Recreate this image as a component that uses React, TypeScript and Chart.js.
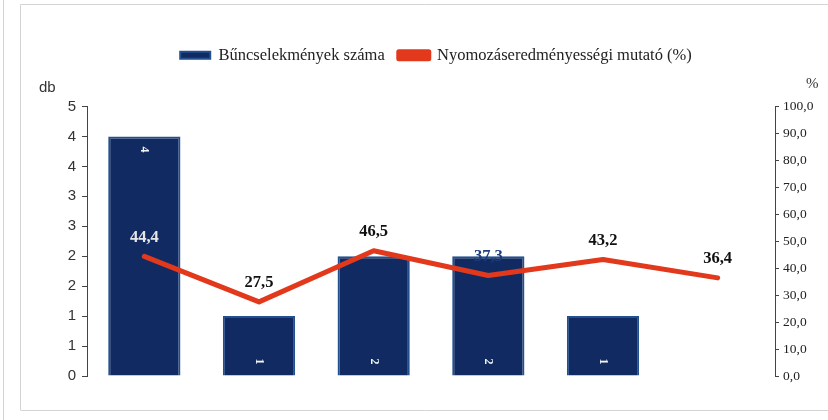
import React, { useEffect, useRef } from "react";
import { Chart, registerables } from "chart.js";

Chart.register(...registerables);

const categories = ["1", "2", "3", "4", "5", "6"];
const crimeCounts: (number | null)[] = [4, 1, 2, 2, 1, null];
const clearanceRates = [44.4, 27.5, 46.5, 37.3, 43.2, 36.4];
const barSeriesName = "Bűncselekmények száma";
const lineSeriesName = "Nyomozáseredményességi mutató (%)";
const leftAxisTitle = "db";
const rightAxisTitle = "%";
const lineLabelColors = ["#e6e6e6", "#111", "#111", "#1c3c80", "#111", "#111"];

const fmtComma = (v: number, d: number) => v.toFixed(d).replace(".", ",");

const decorPlugin = {
  id: "decor",
  beforeInit(chart: any) {
    const orig = chart.legend.fit;
    chart.legend.fit = function () {
      orig.bind(chart.legend)();
      this.height += 33;
    };
  },
  beforeDraw(chart: any) {
    const ctx = chart.ctx;
    ctx.save();
    ctx.fillStyle = "#fff";
    ctx.fillRect(0, 0, chart.width, chart.height);
    ctx.strokeStyle = "#d4d4d4";
    ctx.lineWidth = 1;
    ctx.beginPath();
    ctx.moveTo(20.5, 410);
    ctx.lineTo(20.5, 4.5);
    ctx.lineTo(chart.width, 4.5);
    ctx.moveTo(20.5, 410.5);
    ctx.lineTo(chart.width, 410.5);
    ctx.moveTo(3.5, 0);
    ctx.lineTo(3.5, chart.height);
    ctx.stroke();
    ctx.restore();
  },
  afterDatasetsDraw(chart: any) {
    const ctx = chart.ctx;
    const area = chart.chartArea;
    ctx.save();
    const barMeta = chart.getDatasetMeta(0);
    barMeta.data.forEach((bar: any, i: number) => {
      const v = crimeCounts[i];
      if (v == null) return;
      const y = i === 0 ? bar.y + 13 : bar.base - 14;
      ctx.save();
      ctx.translate(bar.x, y);
      ctx.rotate(Math.PI / 2);
      ctx.fillStyle = "#f4f4f4";
      ctx.font = "bold 12px 'Liberation Serif'";
      ctx.textAlign = "center";
      ctx.textBaseline = "middle";
      ctx.fillText(String(v), 0, 0);
      ctx.restore();
    });
    const lineMeta = chart.getDatasetMeta(1);
    lineMeta.data.forEach((pt: any, i: number) => {
      ctx.fillStyle = lineLabelColors[i];
      ctx.font = "bold 16.5px 'Liberation Serif'";
      ctx.textAlign = "center";
      ctx.textBaseline = "middle";
      ctx.fillText(fmtComma(clearanceRates[i], 1), pt.x, pt.y - 19);
    });
    ctx.fillStyle = "#333";
    ctx.font = "15px 'Liberation Sans'";
    ctx.textAlign = "left";
    ctx.textBaseline = "middle";
    ctx.fillText(leftAxisTitle, area.left - 48, area.top - 19);
    ctx.font = "15px 'Liberation Serif'";
    ctx.fillText(rightAxisTitle, area.right + 31, area.top - 22);
    ctx.restore();
  },
};

export default function App() {
  const ref = useRef<HTMLCanvasElement | null>(null);
  useEffect(() => {
    document.body.style.margin = "0";
    const chart = new Chart(ref.current as HTMLCanvasElement, {
      type: "bar",
      data: {
        labels: categories,
        datasets: [
          {
            type: "bar",
            label: barSeriesName,
            data: crimeCounts as any,
            backgroundColor: "#112b62",
            borderColor: "#23508f",
            borderWidth: 2,
            barPercentage: 0.63,
            categoryPercentage: 1,
            yAxisID: "y",
            order: 2,
          },
          {
            type: "line",
            label: lineSeriesName,
            data: clearanceRates,
            borderColor: "#e2391d",
            backgroundColor: "#e2391d",
            borderWidth: 5,
            pointRadius: 0,
            tension: 0,
            borderCapStyle: "round",
            borderJoinStyle: "round",
            yAxisID: "y1",
            order: 1,
          } as any,
        ],
      },
      options: {
        responsive: false,
        animation: false,
        layout: { padding: { left: 44, right: 0, top: 33, bottom: 44 } },
        plugins: {
          legend: {
            display: true,
            position: "top",
            labels: {
              boxWidth: 30,
              boxHeight: 7,
              padding: 14,
              color: "#222",
              font: { family: "'Liberation Serif'", size: 16.5 },
              sort: (a: any, b: any) => a.datasetIndex - b.datasetIndex,
            },
          },
          tooltip: { enabled: false },
        },
        scales: {
          x: { display: false },
          y: {
            position: "left",
            min: 0,
            max: 4.5,
            afterFit(scale: any) {
              scale.width = 43;
            },
            ticks: {
              stepSize: 0.5,
              color: "#333",
              font: { family: "'Liberation Sans'", size: 15 },
              padding: 6,
              callback: (v: any) => String(Math.round(Number(v))),
            },
            grid: { drawOnChartArea: false, drawTicks: true, tickLength: 5, color: "#444" },
            border: { display: true, color: "#444", width: 1 },
          },
          y1: {
            position: "right",
            min: 0,
            max: 100,
            afterFit(scale: any) {
              scale.width = 53;
            },
            ticks: {
              stepSize: 10,
              color: "#222",
              font: { family: "'Liberation Serif'", size: 13.5 },
              padding: 4,
              callback: (v: any) => fmtComma(Number(v), 1),
            },
            grid: { drawOnChartArea: false, drawTicks: true, tickLength: 4, color: "#444" },
            border: { display: true, color: "#444", width: 1 },
          },
        },
      },
      plugins: [decorPlugin],
    } as any);
    return () => chart.destroy();
  }, []);
  return (
    <div style={{ width: 828, height: 420 }}>
      <canvas ref={ref} width={828} height={420} />
    </div>
  );
}
